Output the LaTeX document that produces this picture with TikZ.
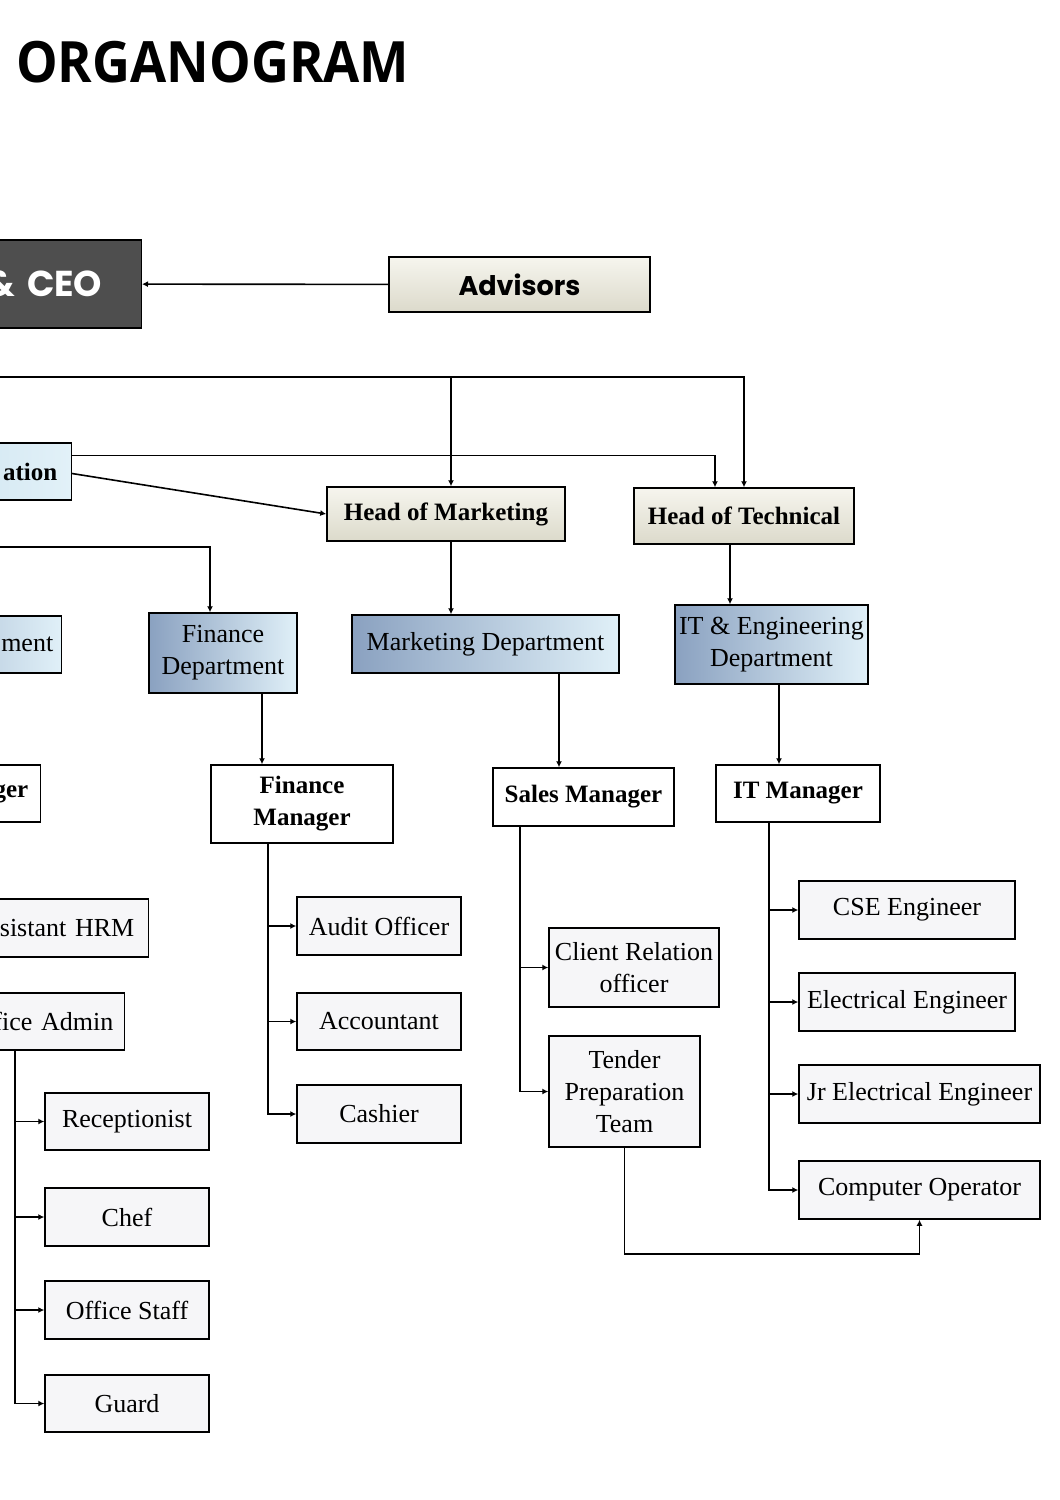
\documentclass[tikz,border=0pt]{standalone}
\usepackage{fontspec}
\setmainfont{Liberation Serif}
\newfontfamily\titlefont[FakeStretch=0.92]{Open Sans}
\newfontfamily\headfont{Poppins}
\usetikzlibrary{arrows.meta,calc}

\definecolor{creamtop}{HTML}{F6F5EE}
\definecolor{creambot}{HTML}{DCDACB}
\definecolor{deptdark}{HTML}{8AA1C0}
\definecolor{deptlight}{HTML}{E0F0F8}
\definecolor{adminleft}{HTML}{C3DDEB}
\definecolor{adminright}{HTML}{E2F1F8}
\definecolor{ceogray}{HTML}{4E4E4E}
\definecolor{staffgray}{HTML}{F6F6F8}

\tikzset{
  box/.style={draw,line width=1.5pt,inner sep=0pt,align=center,minimum height=57pt},
  offleft/.style={anchor=east,text width=200pt,align=right,inner xsep=#1},
  cream/.style={box,top color=creamtop,bottom color=creambot},
  dept/.style={box,left color=deptdark,right color=deptlight,
    font=\fontsize{26}{32}\selectfont},
  head/.style={font=\bfseries\fontsize{25}{32}\selectfont},
  mgr/.style={box,fill=white,head},
  staff/.style={box,fill=staffgray,font=\fontsize{26}{32}\selectfont},
  arr/.style={-{Latex[length=6pt,width=6pt]},line width=1.6pt}
}

\begin{document}
\begin{tikzpicture}[x=1pt,y=-1pt]
  \useasboundingbox (0,0) rectangle (1060,1500);
  \clip (0,0) rectangle (1060,1500);
  \fill[white] (0,0) rectangle (1060,1500);

  \node[anchor=west,inner sep=0pt,font=\titlefont\bfseries\fontsize{57}{60}\selectfont]
    (title) at (16,62) {ORGANOGRAM};

  \node[box,offleft=39pt,fill=ceogray,text=white,minimum height=88pt,
    font=\headfont\bfseries\fontsize{36}{40}\selectfont] (ceo) at (142,284) {\& CEO};
  \node[cream,minimum width=261pt,minimum height=55pt,
    font=\headfont\bfseries\fontsize{27}{30}\selectfont] (adv) at (519.5,284.5) {Advisors};

  \node[box,offleft=14pt,left color=adminleft,right color=adminright,head]
    (admin) at (72,471.5) {ation};
  \node[cream,head,minimum width=238pt,minimum height=54pt] (hmkt) at (446,514) {Head of Marketing};
  \node[cream,head,minimum width=220pt,minimum height=56pt] (htech) at (744,516) {Head of Technical};

  \node[dept,offleft=8pt] (hrdept) at (62,644.5) {ment};
  \node[dept,minimum width=148pt,minimum height=80pt] (fdept) at (223,653) {Finance\\Department};
  \node[dept,minimum width=267pt,minimum height=58pt] (mdept) at (485.5,644) {Marketing Department};
  \node[dept,minimum width=193pt,minimum height=79pt] (itdept) at (771.5,644.5) {IT \& Engineering\\Department};

  \node[mgr,offleft=12pt] (hrm) at (41,793.5) {ger};
  \node[mgr,minimum width=182pt,minimum height=78pt] (fmgr) at (302,804) {Finance\\Manager};
  \node[mgr,minimum width=181pt,minimum height=58pt] (smgr) at (583.5,797) {Sales Manager};
  \node[mgr,minimum width=164pt] (itmgr) at (798,793.5) {IT Manager};

  \node[staff,offleft=14pt,minimum height=58pt] (ahrm) at (149,928) {sistant HRM};
  \node[staff,offleft=11pt] (oadmin) at (125,1021.5) {fice Admin};
  \node[staff,minimum width=164pt] (recep) at (127,1121.5) {Receptionist};
  \node[staff,minimum width=164pt,minimum height=58pt] (chef) at (127,1217) {Chef};
  \node[staff,minimum width=164pt,minimum height=58pt] (ostaff) at (127,1310) {Office Staff};
  \node[staff,minimum width=164pt] (guard) at (127,1403.5) {Guard};

  \node[staff,minimum width=164pt,minimum height=58pt] (audit) at (379,926) {Audit Officer};
  \node[staff,minimum width=164pt] (acct) at (379,1021.5) {Accountant};
  \node[staff,minimum width=164pt,minimum height=58pt] (cash) at (379,1114) {Cashier};

  \node[staff,minimum width=170pt,minimum height=79pt] (client) at (634,967.5) {Client Relation\\officer};
  \node[staff,minimum width=151pt,minimum height=111pt] (tender) at (624.5,1091.5) {Tender\\Preparation\\Team};

  \node[staff,minimum width=216pt,minimum height=58pt] (cse) at (907,910) {CSE Engineer};
  \node[staff,minimum width=216pt,minimum height=58pt] (elec) at (907,1002) {Electrical Engineer};
  \node[staff,minimum width=241pt,minimum height=58pt] (jrelec) at (919.5,1094) {Jr Electrical Engineer};
  \node[staff,minimum width=241pt,minimum height=58pt] (compop) at (919.5,1190) {Computer Operator};

  \coordinate (topline) at (-10,377);
  \coordinate (midline) at (-10,547);

  \draw[arr] (adv) -- (ceo);
  \draw[arr] (topline) -| ([xshift=5pt]hmkt.north);
  \draw[arr] (topline) -| (htech.north);
  \draw[arr] ([yshift=16pt]admin.east) -| ([xshift=-29pt]htech.north);
  \draw[arr] ([yshift=-2pt]admin.east) -- (hmkt.west);
  \draw[arr] (midline) -| ([xshift=-13pt]fdept.north);

  \draw[arr] ([xshift=5pt]hmkt.south) -- ([xshift=5pt]hmkt.south |- mdept.north);
  \draw[arr] ([xshift=-14pt]htech.south) -- ([xshift=-14pt]htech.south |- itdept.north);
  \draw[arr] ([xshift=39pt]fdept.south) -- ([xshift=39pt]fdept.south |- fmgr.north);
  \draw[arr] ([xshift=73.5pt]mdept.south) -- ([xshift=73.5pt]mdept.south |- smgr.north);
  \draw[arr] ([xshift=7.5pt]itdept.south) -- ([xshift=7.5pt]itdept.south |- itmgr.north);

  \foreach \n in {recep,chef,ostaff,guard}
    \draw[arr] ([xshift=-110pt]oadmin.south east) |- (\n.west);
  \foreach \n in {audit,acct,cash}
    \draw[arr] ([xshift=-34pt]fmgr.south) |- (\n.west);
  \foreach \n in {client,tender}
    \draw[arr] ([xshift=-63.5pt]smgr.south) |- (\n.west);
  \foreach \n in {cse,elec,jrelec,compop}
    \draw[arr] ([xshift=-29pt]itmgr.south) |- (\n.west);
  \draw[arr] (tender.south) -- ++(0,106) -| (compop.south);
\end{tikzpicture}
\end{document}
